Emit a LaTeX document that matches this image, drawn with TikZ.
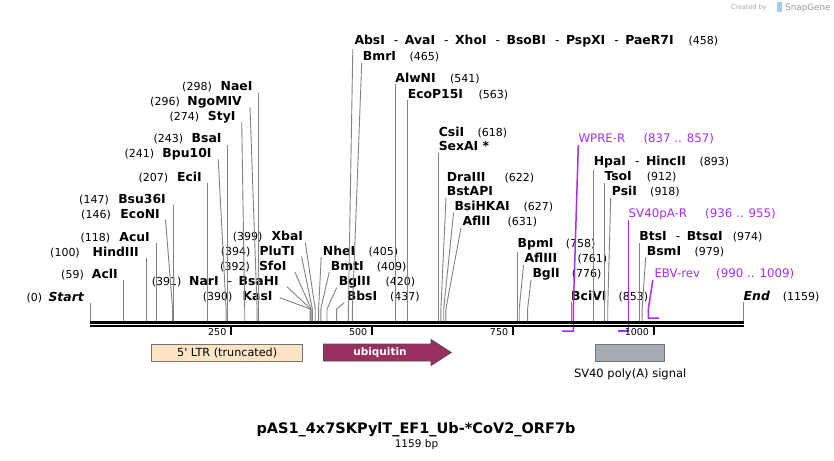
\documentclass[tikz,border=0pt]{standalone}
\usepackage{fontspec}
\setmainfont{DejaVu Sans}
\usetikzlibrary{arrows.meta, positioning}

\definecolor{primer}{RGB}{165,45,245}
\definecolor{cutgray}{RGB}{130,130,130}
\definecolor{ltrfill}{RGB}{255,228,196}
\definecolor{ubqfill}{RGB}{153,48,96}
\definecolor{polyafill}{RGB}{166,170,178}
\definecolor{snapblue}{RGB}{160,205,240}

\newcommand{\sitesep}{\hspace{9pt}{\mdseries -}\hspace{6.5pt}}

\begin{document}
\begin{tikzpicture}[x=1pt, y=-1pt,
    enz/.style={font=\fontsize{12.4}{14}\selectfont\bfseries, inner xsep=0pt, inner ysep=1.5pt},
    termsite/.style={font=\fontsize{12.4}{14}\selectfont\bfseries\itshape, inner xsep=0pt, inner ysep=1.5pt},
    bpnum/.style={font=\fontsize{11}{13}\selectfont, inner sep=0pt},
    oligo/.style={text=primer, font=\fontsize{11.8}{14}\selectfont, inner xsep=0pt, inner ysep=1.5pt},
    cutline/.style={draw=cutgray, line width=0.9pt},
    oligoline/.style={draw=primer, line width=1.5pt},
    feat/.style={draw=black!55, line width=0.8pt},
    featlabel/.style={font=\fontsize{11.5}{13}\selectfont, inner sep=0pt},
    ticklabel/.style={font=\fontsize{9.5}{11}\selectfont, inner sep=0pt}]

\useasboundingbox (0,0) rectangle (834,460);

% cut positions on the backbone
\coordinate (knee) at (0,309);
\coordinate (hookrev) at (0,331);
\coordinate (hookfwd) at (0,318);
\coordinate (c0) at (90.3,321);
\coordinate (c59) at (123.6,321);
\coordinate (c100) at (146.7,321);
\coordinate (c118) at (156.8,321);
\coordinate (c146) at (172.6,321);
\coordinate (c147) at (173.1,321);
\coordinate (c207) at (207.0,321);
\coordinate (c241) at (226.1,321);
\coordinate (c243) at (227.3,321);
\coordinate (c274) at (244.7,321);
\coordinate (c296) at (257.1,321);
\coordinate (c298) at (258.3,321);
\coordinate (c390) at (310.1,321);
\coordinate (c391) at (310.7,321);
\coordinate (c392) at (311.2,321);
\coordinate (c394) at (312.4,321);
\coordinate (c399) at (315.2,321);
\coordinate (c405) at (318.6,321);
\coordinate (c409) at (320.8,321);
\coordinate (c420) at (327.0,321);
\coordinate (c437) at (336.6,321);
\coordinate (c458) at (348.4,321);
\coordinate (c465) at (352.4,321);
\coordinate (c541) at (395.2,321);
\coordinate (c563) at (407.6,321);
\coordinate (c618) at (438.6,321);
\coordinate (c622) at (440.9,321);
\coordinate (c627) at (443.7,321);
\coordinate (c631) at (445.9,321);
\coordinate (c758) at (517.5,321);
\coordinate (c761) at (519.2,321);
\coordinate (c776) at (527.6,321);
\coordinate (c853) at (571.0,321);
\coordinate (c893) at (593.6,321);
\coordinate (c912) at (604.3,321);
\coordinate (c918) at (607.7,321);
\coordinate (c974) at (639.2,321);
\coordinate (c979) at (642.1,321);
\coordinate (c1159) at (743.5,321);
\coordinate (c837) at (562.0,321);
\coordinate (c857) at (573.3,321);
\coordinate (c936) at (617.8,321);
\coordinate (c955) at (628.5,321);
\coordinate (c990) at (648.3,321);
\coordinate (c1009) at (659.0,321);

% sites left of their cut
\node[termsite, anchor=base east] (startsite) at (84,301.5) {Start};
\node[bpnum, anchor=base east] (startpos) at (42.3,301.5) {(0)};
\node[enz, anchor=base east] (aclI) at (118,278) {AclI};
\node[bpnum, anchor=base east] (aclIpos) at (84,278) {(59)};
\node[enz, anchor=base east] (hindIII) at (139,256) {HindIII};
\node[bpnum, anchor=base east] (hindIIIpos) at (80,256) {(100)};
\node[enz, anchor=base east] (acuI) at (150,241.5) {AcuI};
\node[bpnum, anchor=base east] (acuIpos) at (110.3,241.5) {(118)};
\node[enz, anchor=base east] (ecoNI) at (160,218) {EcoNI};
\node[bpnum, anchor=base east] (ecoNIpos) at (111,218) {(146)};
\node[enz, anchor=base east] (bsu36I) at (166,203) {Bsu36I};
\node[bpnum, anchor=base east] (bsu36Ipos) at (109,203) {(147)};
\node[enz, anchor=base east] (eciI) at (202,181) {EciI};
\node[bpnum, anchor=base east] (eciIpos) at (168.3,181) {(207)};
\node[enz, anchor=base east] (bpu10I) at (211.7,157.7) {Bpu10I};
\node[bpnum, anchor=base east] (bpu10Ipos) at (154.3,157.7) {(241)};
\node[enz, anchor=base east] (bsaI) at (221.7,142.7) {BsaI};
\node[bpnum, anchor=base east] (bsaIpos) at (183.3,142.7) {(243)};
\node[enz, anchor=base east] (styI) at (235.7,120.7) {StyI};
\node[bpnum, anchor=base east] (styIpos) at (199.3,120.7) {(274)};
\node[enz, anchor=base east] (ngoMIV) at (242,105.7) {NgoMIV};
\node[bpnum, anchor=base east] (ngoMIVpos) at (180,105.7) {(296)};
\node[enz, anchor=base east] (naeI) at (252.7,90.7) {NaeI};
\node[bpnum, anchor=base east] (naeIpos) at (212,90.7) {(298)};
\node[enz, anchor=base east] (narI) at (279,285.7) {NarI\sitesep BsaHI};
\node[bpnum, anchor=base east] (narIpos) at (181.7,285.7) {(391)};
\node[enz, anchor=base east] (kasI) at (272.7,300.7) {KasI};
\node[bpnum, anchor=base east] (kasIpos) at (232.7,300.7) {(390)};
\node[enz, anchor=base east] (sfoI) at (286.7,270.7) {SfoI};
\node[bpnum, anchor=base east] (sfoIpos) at (250,270.7) {(392)};
\node[enz, anchor=base east] (pluTI) at (295,255) {PluTI};
\node[bpnum, anchor=base east] (pluTIpos) at (250.7,255) {(394)};
\node[enz, anchor=base east] (xbaI) at (303.3,240) {XbaI};
\node[bpnum, anchor=base east] (xbaIpos) at (262.7,240) {(399)};

% sites right of their cut
\node[enz, anchor=base west] (nheI) at (322.7,255.7) {NheI};
\node[bpnum, anchor=base west] (nheIpos) at (368.3,255.7) {(405)};
\node[enz, anchor=base west] (bmtI) at (330.7,270.7) {BmtI};
\node[bpnum, anchor=base west] (bmtIpos) at (376.7,270.7) {(409)};
\node[enz, anchor=base west] (bglII) at (338.7,285.7) {BglII};
\node[bpnum, anchor=base west] (bglIIpos) at (385.3,285.7) {(420)};
\node[enz, anchor=base west] (bbsI) at (346.7,300.7) {BbsI};
\node[bpnum, anchor=base west] (bbsIpos) at (390,300.7) {(437)};
\node[enz, anchor=base west] (absI) at (354.3,45) {AbsI\sitesep AvaI\sitesep XhoI\sitesep BsoBI\sitesep PspXI\sitesep PaeR7I};
\node[bpnum, anchor=base west] (absIpos) at (688.3,45) {(458)};
\node[enz, anchor=base west] (bmrI) at (362.7,60.7) {BmrI};
\node[bpnum, anchor=base west] (bmrIpos) at (409.3,60.7) {(465)};
\node[enz, anchor=base west] (alwNI) at (395.2,82.7) {AlwNI};
\node[bpnum, anchor=base west] (alwNIpos) at (450,82.7) {(541)};
\node[enz, anchor=base west] (ecoP15I) at (407.6,98.3) {EcoP15I};
\node[bpnum, anchor=base west] (ecoP15Ipos) at (478.3,98.3) {(563)};
\node[enz, anchor=base west] (csiI) at (438.6,136) {CsiI};
\node[bpnum, anchor=base west] (csiIpos) at (477.3,136) {(618)};
\node[enz, anchor=base west] (sexAI) at (438.6,150.7) {SexAI *};
\node[enz, anchor=base west] (draIII) at (446.7,181) {DraIII};
\node[bpnum, anchor=base west] (draIIIpos) at (504.3,181) {(622)};
\node[enz, anchor=base west] (bstAPI) at (446.7,195.7) {BstAPI};
\node[enz, anchor=base west] (bsiHKAI) at (454.3,210.7) {BsiHKAI};
\node[bpnum, anchor=base west] (bsiHKAIpos) at (523.3,210.7) {(627)};
\node[enz, anchor=base west] (aflII) at (462.3,225.7) {AflII};
\node[bpnum, anchor=base west] (aflIIpos) at (507.3,225.7) {(631)};
\node[enz, anchor=base west] (bpmI) at (517.5,247.7) {BpmI};
\node[bpnum, anchor=base west] (bpmIpos) at (565.7,247.7) {(758)};
\node[enz, anchor=base west] (aflIII) at (524.3,262.3) {AflIII};
\node[bpnum, anchor=base west] (aflIIIpos) at (577.3,262.3) {(761)};
\node[enz, anchor=base west] (bglI) at (532.3,277.7) {BglI};
\node[bpnum, anchor=base west] (bglIpos) at (571.7,277.7) {(776)};
\node[enz, anchor=base west] (bciVI) at (571,300) {BciVI};
\node[bpnum, anchor=base west] (bciVIpos) at (618.3,300) {(853)};
\node[enz, anchor=base west] (hpaI) at (593.6,165.7) {HpaI\sitesep HincII};
\node[bpnum, anchor=base west] (hpaIpos) at (699.3,165.7) {(893)};
\node[enz, anchor=base west] (tsoI) at (604.3,180.7) {TsoI};
\node[bpnum, anchor=base west] (tsoIpos) at (646.7,180.7) {(912)};
\node[enz, anchor=base west] (psiI) at (611.7,195.7) {PsiI};
\node[bpnum, anchor=base west] (psiIpos) at (650,195.7) {(918)};
\node[enz, anchor=base west] (btsI) at (639.2,240.7) {BtsI\sitesep BtsαI};
\node[bpnum, anchor=base west] (btsIpos) at (732.7,240.7) {(974)};
\node[enz, anchor=base west] (bsmI) at (646.7,255.7) {BsmI};
\node[bpnum, anchor=base west] (bsmIpos) at (694.3,255.7) {(979)};
\node[termsite, anchor=base west] (endsite) at (743.5,300) {End};
\node[bpnum, anchor=base west] (endpos) at (782.7,300) {(1159)};

% primers
\node[oligo, anchor=base west] (wpreR) at (578.3,142.5) {WPRE-R};
\node[oligo, anchor=base west] (wpreRpos) at (643.3,142.5) {(837 .. 857)};
\node[oligo, anchor=base west] (sv40pAR) at (628.5,217.7) {SV40pA-R};
\node[oligo, anchor=base west] (sv40pARpos) at (705,217.7) {(936 .. 955)};
\node[oligo, anchor=base west] (ebvRev) at (654.3,277.7) {EBV-rev};
\node[oligo, anchor=base west] (ebvRevpos) at (716,277.7) {(990 .. 1009)};

% cut lines
\draw[cutline] (c0) -- (c0 |- startsite.south);
\draw[cutline] (c59) -- (c59 |- aclI.south);
\draw[cutline] (c100) -- (c100 |- hindIII.south);
\draw[cutline] (c118) -- (c118 |- acuI.south);
\draw[cutline] ([shift={(5.5pt,-1.5pt)}]ecoNI.base east) -- (c146 |- knee) -- (c146);
\draw[cutline] (c147) -- (c147 |- bsu36I.south);
\draw[cutline] (c207) -- (c207 |- eciI.south);
\draw[cutline] ([shift={(6.5pt,-1.5pt)}]bpu10I.base east) -- (c241 |- knee) -- (c241);
\draw[cutline] (c243) -- (c243 |- bsaI.south);
\draw[cutline] ([shift={(6pt,-1.5pt)}]styI.base east) -- (c274 |- knee) -- (c274);
\draw[cutline] ([shift={(8pt,-1.5pt)}]ngoMIV.base east) -- (c296 |- knee) -- (c296);
\draw[cutline] (c298) -- (c298 |- naeI.south);
\draw[cutline] ([shift={(8pt,-1pt)}]narI.base east) -- (c391 |- knee) -- (c391);
\draw[cutline] ([shift={(7pt,3pt)}]kasI.base east) -- (c390 |- knee) -- (c390);
\draw[cutline] ([shift={(8pt,-1pt)}]sfoI.base east) -- (c392 |- knee) -- (c392);
\draw[cutline] ([shift={(6.5pt,-1.5pt)}]pluTI.base east) -- (c394 |- knee) -- (c394);
\draw[cutline] ([shift={(2pt,-2.5pt)}]xbaI.base east) -- (c399 |- knee) -- (c399);
\draw[cutline] ([shift={(-1.5pt,-1.5pt)}]nheI.base west) -- (c405 |- knee) -- (c405);
\draw[cutline] ([shift={(-1.5pt,-1.5pt)}]bmtI.base west) -- (c409 |- knee) -- (c409);
\draw[cutline] ([shift={(-2pt,-2pt)}]bglII.base west) -- (c420 |- knee) -- (c420);
\draw[cutline] ([shift={(-2.5pt,-2pt)}]bbsI.base west) -- (c437 |- knee) -- (c437);
\draw[cutline] ([shift={(-1.5pt,-4pt)}]absI.base west) -- (c458 |- knee) -- (c458);
\draw[cutline] ([shift={(-1pt,-2.5pt)}]bmrI.base west) -- (c465 |- knee) -- (c465);
\draw[cutline] (c541) -- (c541 |- alwNI.south);
\draw[cutline] (c563) -- (c563 |- ecoP15I.south);
\draw[cutline] (c618) -- (c618 |- sexAI.south);
\draw[cutline] ([shift={(-0.7pt,-1.6pt)}]bstAPI.base west) -- (c622 |- knee) -- (c622);
\draw[cutline] ([shift={(-0.7pt,-2pt)}]bsiHKAI.base west) -- (c627 |- knee) -- (c627);
\draw[cutline] ([shift={(-1.3pt,-2pt)}]aflII.base west) -- (c631 |- knee) -- (c631);
\draw[cutline] (c758) -- (c758 |- bpmI.south);
\draw[cutline] ([shift={(-0.7pt,-2.5pt)}]aflIII.base west) -- (c761 |- knee) -- (c761);
\draw[cutline] ([shift={(-1.3pt,-2.3pt)}]bglI.base west) -- (c776 |- knee) -- (c776);
\draw[cutline] (c853) -- (c853 |- bciVI.south);
\draw[cutline] (c893) -- (c893 |- hpaI.south);
\draw[cutline] (c912) -- (c912 |- tsoI.south);
\draw[cutline] ([shift={(-1pt,-2.5pt)}]psiI.base west) -- (c918 |- knee) -- (c918);
\draw[cutline] (c974) -- (c974 |- btsI.south);
\draw[cutline] ([shift={(-1pt,-1.6pt)}]bsmI.base west) -- (c979 |- knee) -- (c979);
\draw[cutline] (c1159) -- (c1159 |- endsite.south);

% primer leaders and hooks
\draw[oligoline] ([yshift=-2.5pt]wpreR.base west) -- (c857 |- knee) -- (c857 |- hookrev) -- (c837 |- hookrev);
\draw[oligoline] ([yshift=-2.5pt]sv40pAR.base west) -- (c955 |- hookrev) -- (c936 |- hookrev);
\draw[oligoline] ([shift={(-1.5pt,-2.5pt)}]ebvRev.base west) -- (c990 |- knee) -- (c990 |- hookfwd) -- (c1009 |- hookfwd);

% backbone
\draw[line width=3pt] (90.3,322.4) -- (743.5,322.4);
\draw[line width=1.8pt] (90.3,326.2) -- (743.5,326.2);

% ruler
\draw[line width=1.5pt] (231.2,327) -- (231.2,335);
\draw[line width=1.5pt] (372.1,327) -- (372.1,335);
\draw[line width=1.5pt] (513.0,327) -- (513.0,335);
\draw[line width=1.5pt] (653.9,327) -- (653.9,335);
\node[ticklabel, anchor=base east] (tick250) at (226.5,335.5) {250};
\node[ticklabel, anchor=base east] (tick500) at (367.4,335.5) {500};
\node[ticklabel, anchor=base east] (tick750) at (508.3,335.5) {750};
\node[ticklabel, anchor=base east] (tick1000) at (649.2,335.5) {1000};

% features
\node[feat, fill=ltrfill, minimum width=151.1pt, minimum height=17pt, inner sep=0pt,
      font=\fontsize{11.2}{13}\selectfont] (ltr5) at (227.15,352.5) {5\textquotesingle{} LTR (truncated)};
\draw[feat, draw=black!70, fill=ubqfill] (323.4,344) -- (431,344) -- (431,339.5) -- (451.2,352.5)
      -- (431,365.5) -- (431,361) -- (323.4,361) -- cycle;
\node[font=\fontsize{10.5}{12}\selectfont\bfseries, text=white, inner sep=0pt] (ubqlabel) at (380,352.5) {ubiquitin};
\node[feat, fill=polyafill, minimum width=69.3pt, minimum height=17pt, inner sep=0pt] (sv40pA) at (630.15,352.5) {};
\node[featlabel, below=7.5pt of sv40pA] (sv40pAlabel) {SV40 poly(A) signal};

% title
\node[font=\fontsize{14.5}{17}\selectfont\bfseries, anchor=base] (title) at (416,433.5) {pAS1\_4x7SKPylT\_EF1\_Ub-*CoV2\_ORF7b};
\node[font=\fontsize{10.5}{12}\selectfont, anchor=base] (length) at (416.5,447.5) {1159 bp};

% watermark
\node[text=black!35, font=\fontsize{6.5}{8}\selectfont, anchor=base east, inner sep=0pt] (createdby) at (767,10) {Created by};
\fill[snapblue] (777,2.5) rectangle (781.5,12.5);
\node[text=black!40, font=\fontsize{8.8}{10}\selectfont, anchor=base west, inner sep=0pt] (snapgene) at (785,10.5) {SnapGene};
\end{tikzpicture}
\end{document}
